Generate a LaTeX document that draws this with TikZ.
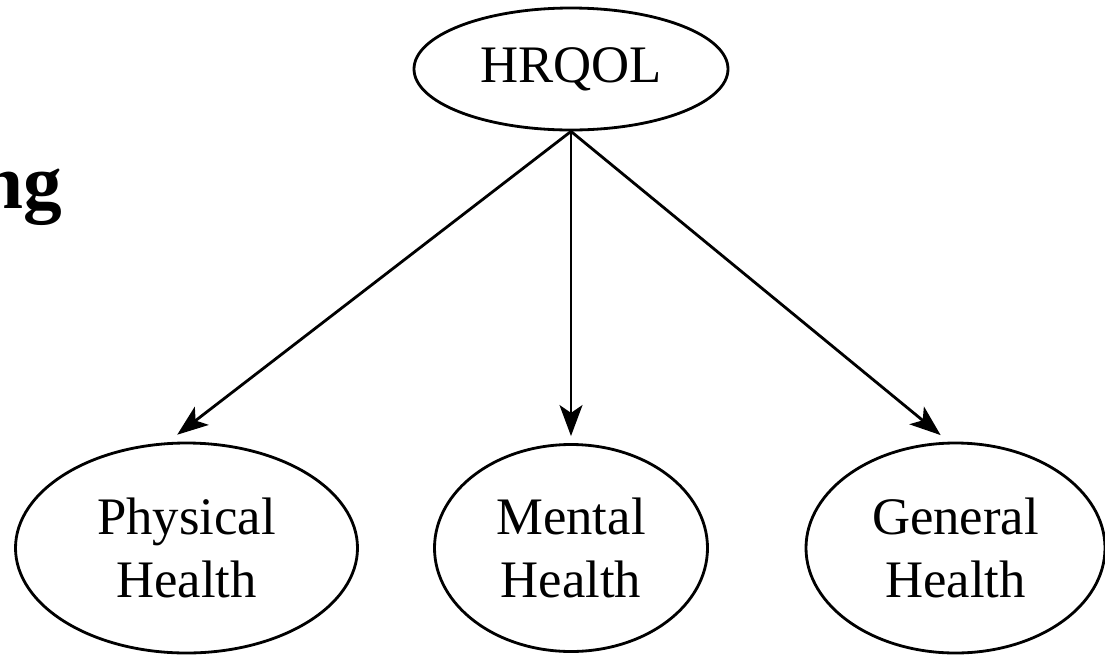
\documentclass[tikz,border=0pt]{standalone}
\usepackage{fontspec}
\setmainfont{Liberation Serif}
\usetikzlibrary{positioning,arrows.meta,shapes.geometric}

\begin{document}
\begin{tikzpicture}[grow=down,>={Stealth[length=8.8pt,width=6.5pt,inset=2.2pt]},level distance=4.79cm,
  level 1/.style={sibling distance=3.845cm},
  every node/.style={font=\fontsize{15}{18}\selectfont,align=center},
  factor/.style={draw,ellipse,line width=0.8pt,inner sep=0pt},
  edge from parent/.style={draw,->,line width=0.8pt},
  aimat/.style={edge from parent path={(\tikzparentnode.south) -- ([yshift=2pt]\tikzchildnode.#1)}}]
\useasboundingbox (0,0) rectangle (11.05,6.54);
\node[factor,minimum width=3.14cm,minimum height=1.22cm] (hrqol) at (5.71,5.85) {HRQOL}
 child[aimat=95] {node[factor,minimum width=3.42cm,minimum height=2.10cm] (phys) {Physical\\Health}}
 child[aimat=90] {node[factor,minimum width=2.73cm,minimum height=2.07cm] (ment) {Mental\\Health}}
 child[aimat=98] {node[factor,minimum width=2.99cm,minimum height=2.10cm] (gen) {General\\Health}};
\node[font=\fontsize{22}{24}\selectfont\bfseries,inner sep=0pt,anchor=base east] (cut) at (0.63,4.46) {ng};
\end{tikzpicture}
\end{document}
